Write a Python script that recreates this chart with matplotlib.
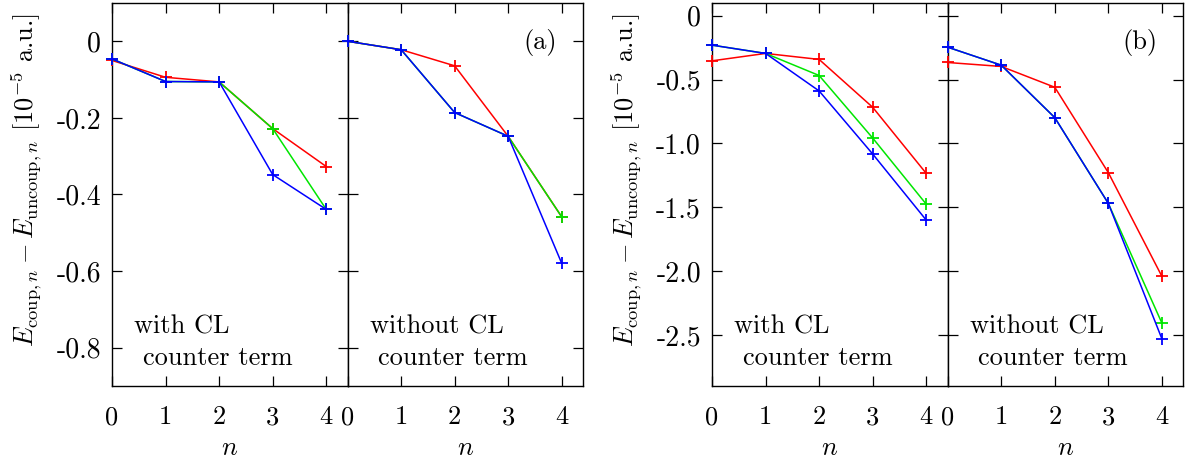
import matplotlib
matplotlib.use("Agg")
import matplotlib.pyplot as plt

plt.rcParams['mathtext.fontset'] = 'cm'
plt.rcParams['font.family'] = ['cmr10', 'DejaVu Serif']
plt.rcParams['axes.unicode_minus'] = False

n = [0, 1, 2, 3, 4]

# Panel (a), with CL counter term
a_with_red = [-0.050, -0.094, -0.106, -0.228, -0.327]
a_with_green = [-0.046, -0.105, -0.106, -0.228, -0.439]
a_with_blue = [-0.046, -0.105, -0.106, -0.348, -0.439]
# Panel (a), without CL counter term
a_wo_red = [0.000, -0.022, -0.064, -0.248, -0.458]
a_wo_green = [0.000, -0.022, -0.186, -0.248, -0.458]
a_wo_blue = [0.000, -0.022, -0.186, -0.248, -0.579]

# Panel (b), with CL counter term
b_with_red = [-0.353, -0.295, -0.342, -0.717, -1.235]
b_with_green = [-0.230, -0.295, -0.468, -0.958, -1.476]
b_with_blue = [-0.230, -0.295, -0.589, -1.083, -1.601]
# Panel (b), without CL counter term
b_wo_red = [-0.366, -0.397, -0.560, -1.229, -2.041]
b_wo_green = [-0.246, -0.387, -0.798, -1.470, -2.407]
b_wo_blue = [-0.246, -0.387, -0.798, -1.470, -2.530]

a_yticks = [0, -0.2, -0.4, -0.6, -0.8]
a_yticklabels = ['0', '-0.2', '-0.4', '-0.6', '-0.8']
b_yticks = [0, -0.5, -1.0, -1.5, -2.0, -2.5]
b_yticklabels = ['0', '-0.5', '-1.0', '-1.5', '-2.0', '-2.5']

RED = '#ff0000'
GREEN = '#00e600'
BLUE = '#0000ff'

W, H = 1192, 461
fig = plt.figure(figsize=(W / 100, H / 100), dpi=100)

def frac_rect(x0, x1, ytop, ybot):
    return [x0 / W, 1 - ybot / H, (x1 - x0) / W, (ybot - ytop) / H]

ytop, ybot = 3, 386
axes_specs = [
    (112, 347.7, (a_with_red, a_with_green, a_with_blue), (-0.9, 0.1), a_yticks, a_yticklabels, True, 'with CL'),
    (347.7, 583, (a_wo_red, a_wo_green, a_wo_blue), (-0.9, 0.1), a_yticks, a_yticklabels, False, 'without CL'),
    (712, 947.7, (b_with_red, b_with_green, b_with_blue), (-2.9, 0.1), b_yticks, b_yticklabels, True, 'with CL'),
    (947.7, 1183.3, (b_wo_red, b_wo_green, b_wo_blue), (-2.9, 0.1), b_yticks, b_yticklabels, False, 'without CL'),
]

FS = 19
axes = []
for x0, x1, series, ylim, yt, ytl, showlab, txt in axes_specs:
    ax = fig.add_axes(frac_rect(x0, x1, ytop, ybot))
    for vals, c in zip(series, (RED, GREEN, BLUE)):
        ax.plot(n, vals, color=c, lw=1.1, marker='+', ms=9, mew=1.3, clip_on=False, zorder=3)
    ax.set_xlim(0, 4.4)
    ax.set_ylim(*ylim)
    ax.set_xticks(n)
    ax.set_xticklabels([str(v) for v in n], fontsize=FS)
    ax.set_yticks(yt)
    if showlab:
        ax.set_yticklabels(ytl, fontsize=20)
    else:
        ax.set_yticklabels([])
    ax.tick_params(axis='x', direction='in', length=7, width=0.9, top=True,
                   pad=14, labelsize=FS)
    ax.tick_params(axis='y', direction='in', length=7, width=0.9, right=True,
                   pad=8, labelsize=20)
    for s in ax.spines.values():
        s.set_linewidth(1.0)
    ax.set_xlabel(r'$n$', fontsize=FS, labelpad=5)
    ax.text(0.093 if showlab else 0.095, 0.136, txt, transform=ax.transAxes,
            fontsize=FS, va='baseline', ha='left')
    ax.text(0.132 if showlab else 0.13, 0.055, 'counter term', transform=ax.transAxes,
            fontsize=FS, va='baseline', ha='left')
    axes.append(ax)

axes[1].text(0.817, 0.898, '(a)', transform=axes[1].transAxes, fontsize=FS,
             ha='center', va='center')
axes[3].text(0.817, 0.898, '(b)', transform=axes[3].transAxes, fontsize=FS,
             ha='center', va='center')

ylabel = r'$E_{\mathrm{coup},n} - E_{\mathrm{uncoup},n}$ [$10^{-5}$ a.u.]'
fig.text(27 / W, 1 - 180.5 / H, ylabel, rotation=90, ha='center', va='center', fontsize=FS)
fig.text(627 / W, 1 - 180 / H, ylabel, rotation=90, ha='center', va='center', fontsize=FS)

fig.savefig('out.png', dpi=100)
